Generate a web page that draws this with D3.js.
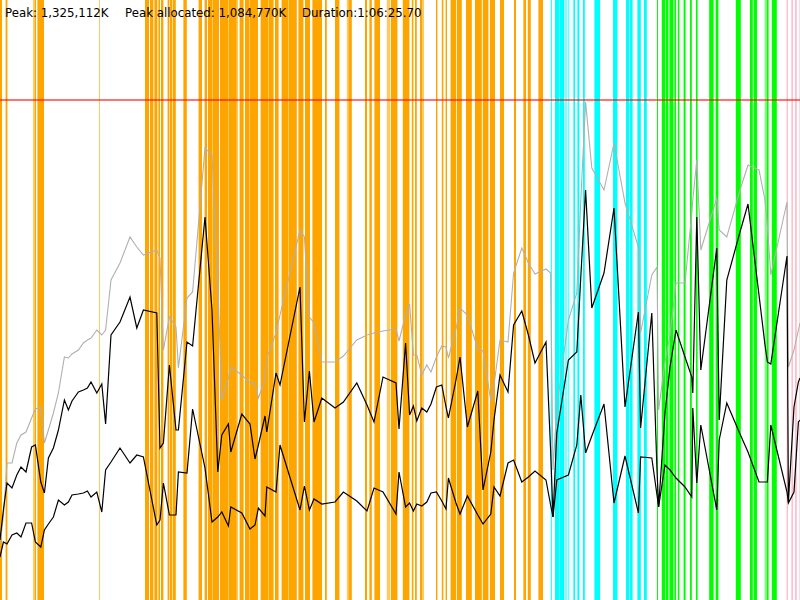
<!DOCTYPE html>
<html>
<head>
<meta charset="utf-8">
<script src="https://cdn.jsdelivr.net/npm/d3@7"></script>
<style>
  html, body { margin: 0; padding: 0; background: #fff; }
  svg { display: block; }
</style>
</head>
<body>
<svg id="chart" width="800" height="600"></svg>
<script>
// ---- data (time in seconds, memory in MB) ----
const headerLabels = ["Peak: 1,325,112K", "Peak allocated: 1,084,770K", "Duration:1:06:25.70"];
const durationSeconds = 4000;
const heapLimitMB = 1500;

const times = [0,17,35,60,84,105,130,158,177,204,222,242,267,292,322,342,360,392,417,437,455,484,509,528,555,600,650,684,717,784,800,817,847,880,892,935,963,1025,1060,1089,1109,1142,1154,1209,1250,1275,1292,1325,1334,1380,1400,1500,1522,1547,1570,1609,1675,1717,1784,1835,1870,1915,1980,1995,2028,2048,2067,2084,2109,2134,2155,2182,2209,2230,2242,2280,2300,2337,2389,2415,2454,2470,2500,2540,2568,2609,2642,2675,2730,2753,2765,2784,2842,2884,2904,2928,2959,3020,3070,3125,3192,3203,3259,3285,3293,3325,3350,3380,3425,3459,3464,3484,3504,3584,3596,3634,3700,3740,3795,3825,3837,3854,3935,3942,3970,3992,4000];

const heapTotal = [165,252,411,411,471,495,504,546,573,579,471,510,561,621,729,726,738,750,771,780,786,810,795,810,960,1011,1089,1059,1035,1050,1026,750,849,819,696,906,924,1356,1335,951,600,666,699,675,651,651,606,660,726,801,855,1110,1089,849,831,714,714,732,780,795,801,807,813,777,855,888,735,735,675,705,684,729,762,759,726,813,876,855,753,747,597,645,780,774,981,1056,1011,978,993,981,390,579,840,921,1200,1494,1296,1230,1371,1191,1059,801,975,999,570,714,795,951,951,1161,1200,1320,1050,1206,1110,1089,1230,1305,1290,1200,1122,975,1194,699,750,810,831];

const usedHigh = [180,270,351,336,375,399,384,459,465,354,321,426,456,510,600,570,597,624,630,636,654,621,648,528,795,834,909,816,870,861,456,471,705,510,510,774,762,1149,870,384,495,528,444,558,528,423,465,552,504,681,645,939,534,687,534,606,576,594,651,585,534,669,651,513,771,555,582,537,576,564,588,639,645,579,546,660,729,519,627,330,444,540,675,624,825,867,795,711,774,450,249,501,720,744,969,1230,876,981,1176,579,864,516,861,390,279,561,699,810,729,669,621,1149,690,1056,540,960,1104,1188,915,765,714,708,1032,294,579,654,666];

const usedLow = [129,174,168,195,201,189,231,231,174,159,210,228,249,300,285,294,315,318,321,327,309,324,264,390,414,456,411,435,429,225,240,351,255,255,384,381,573,396,234,249,264,222,279,261,213,225,276,252,339,324,465,270,342,270,303,288,294,324,297,267,336,324,258,384,279,291,267,288,282,294,321,324,297,273,366,291,258,312,255,228,258,339,312,411,420,354,369,387,360,285,249,360,375,465,615,441,492,588,291,432,261,429,426,315,279,405,390,366,339,309,576,351,525,270,480,591,498,444,354,354,354,525,324,291,324,534,540];

// collection periods: start / end (seconds) and kind
const gcStart = [
  0,28,165,172,187,495,725,750,772,792,
  805,838,850,863,917,993,1023,1040,1062,1100,
  1142,1185,1198,1225,1247,1303,1342,1375,1408,1442,
  1492,1525,1562,1625,1675,1734,1742,1825,1847,1872,
  1934,1954,2014,2059,2075,2100,2110,2180,2209,2228,
  2253,2284,2330,2375,2414,2450,2500,2570,2617,2639,
  2692,
  2754,2775,2800,2823,2842,2867,2887,2915,2972,3065,3130,3148,3187,3220,
  3285,3309,3328,3347,3372,3389,3418,3450,3480,3546,3578,3679,3750,3768,3823,3834,3859,
  3933,3957,3975,3997];
const gcEnd = [
  10,37,170,180,220,500,745,767,787,800,
  817,847,860,879,934,1010,1035,1060,1095,1140,
  1184,1190,1218,1245,1290,1340,1368,1393,1440,1484,
  1517,1550,1610,1634,1697,1742,1759,1835,1859,1900,
  1950,1987,2047,2067,2084,2110,2120,2187,2217,2235,
  2280,2309,2359,2409,2442,2475,2520,2580,2630,2654,
  2715,
  2759,2798,2820,2837,2845,2875,2897,2924,3000,3087,3145,3163,3204,3234,
  3290,3325,3342,3367,3380,3397,3428,3459,3488,3568,3592,3704,3764,3785,3834,3843,3884,
  3940,3965,3984,4000];
const gcKind = [
  "o","o","ol","o","o","ol","o","o","o","o",
  "o","o","o","o","o","o","o","o","o","o",
  "o","ol","o","o","o","o","o","o","o","o",
  "o","o","o","o","o","ol","o","o","o","o",
  "ol","o","o","o","o","o","ol","o","o","o",
  "o","o","o","o","o","o","o","o","o","o",
  "o",
  "c","c","c","cl","c","c","c","c","c","c","c","c","c","c",
  "g","g","g","g","g","g","g","g","g","g","g","g","g","g","gl","g","g",
  "p","p","p","p"];

const kindColor = { o: "#FFA500", ol: "#FFA500", c: "#00FFFF", cl: "#00FFFF", g: "#00FF00", gl: "#00FF00", p: "#FFC0CB" };
const kindOpacity = { o: 1, ol: 0.6, c: 1, cl: 0.5, g: 1, gl: 0.5, p: 1 };

// ---- drawing ----
const W = 800, H = 600;
const svg = d3.select("#chart");
const x = d3.scaleLinear().domain([0, durationSeconds]).range([0, W]);
const y = d3.scaleLinear().domain([0, 1800]).range([H, 0]);

svg.append("rect").attr("width", W).attr("height", H).attr("fill", "#fff");

const gcData = gcStart.map((s, i) => ({ s, e: gcEnd[i], k: gcKind[i] }));
svg.append("g").selectAll("rect").data(gcData).join("rect")
  .attr("x", d => x(d.s))
  .attr("width", d => Math.max(0.8, x(d.e) - x(d.s)))
  .attr("y", 0)
  .attr("height", H)
  .attr("fill", d => kindColor[d.k])
  .attr("fill-opacity", d => kindOpacity[d.k]);

const pts = times.map((t, i) => ({ t, total: heapTotal[i], hi: usedHigh[i], lo: usedLow[i] }));
const mk = key => d3.line().x(d => x(d.t)).y(d => y(d[key]));

svg.append("path").datum(pts).attr("d", mk("total"))
  .attr("fill", "none").attr("stroke", "#b0b0b0").attr("stroke-width", 1.1);
svg.append("path").datum(pts).attr("d", mk("hi"))
  .attr("fill", "none").attr("stroke", "#000").attr("stroke-width", 1.2);
svg.append("path").datum(pts).attr("d", mk("lo"))
  .attr("fill", "none").attr("stroke", "#000").attr("stroke-width", 1.2);

svg.append("line")
  .attr("x1", 0).attr("x2", W)
  .attr("y1", y(heapLimitMB)).attr("y2", y(heapLimitMB))
  .attr("stroke", "#ff0000").attr("stroke-opacity", 0.55).attr("stroke-width", 2);

const labelX = [5, 125, 302];
svg.append("g").selectAll("text").data(headerLabels).join("text")
  .attr("x", (d, i) => labelX[i])
  .attr("y", 17)
  .attr("font-family", "DejaVu Sans, sans-serif")
  .attr("font-size", 11.8)
  .attr("fill", "#000")
  .text(d => d);
</script>
</body>
</html>
